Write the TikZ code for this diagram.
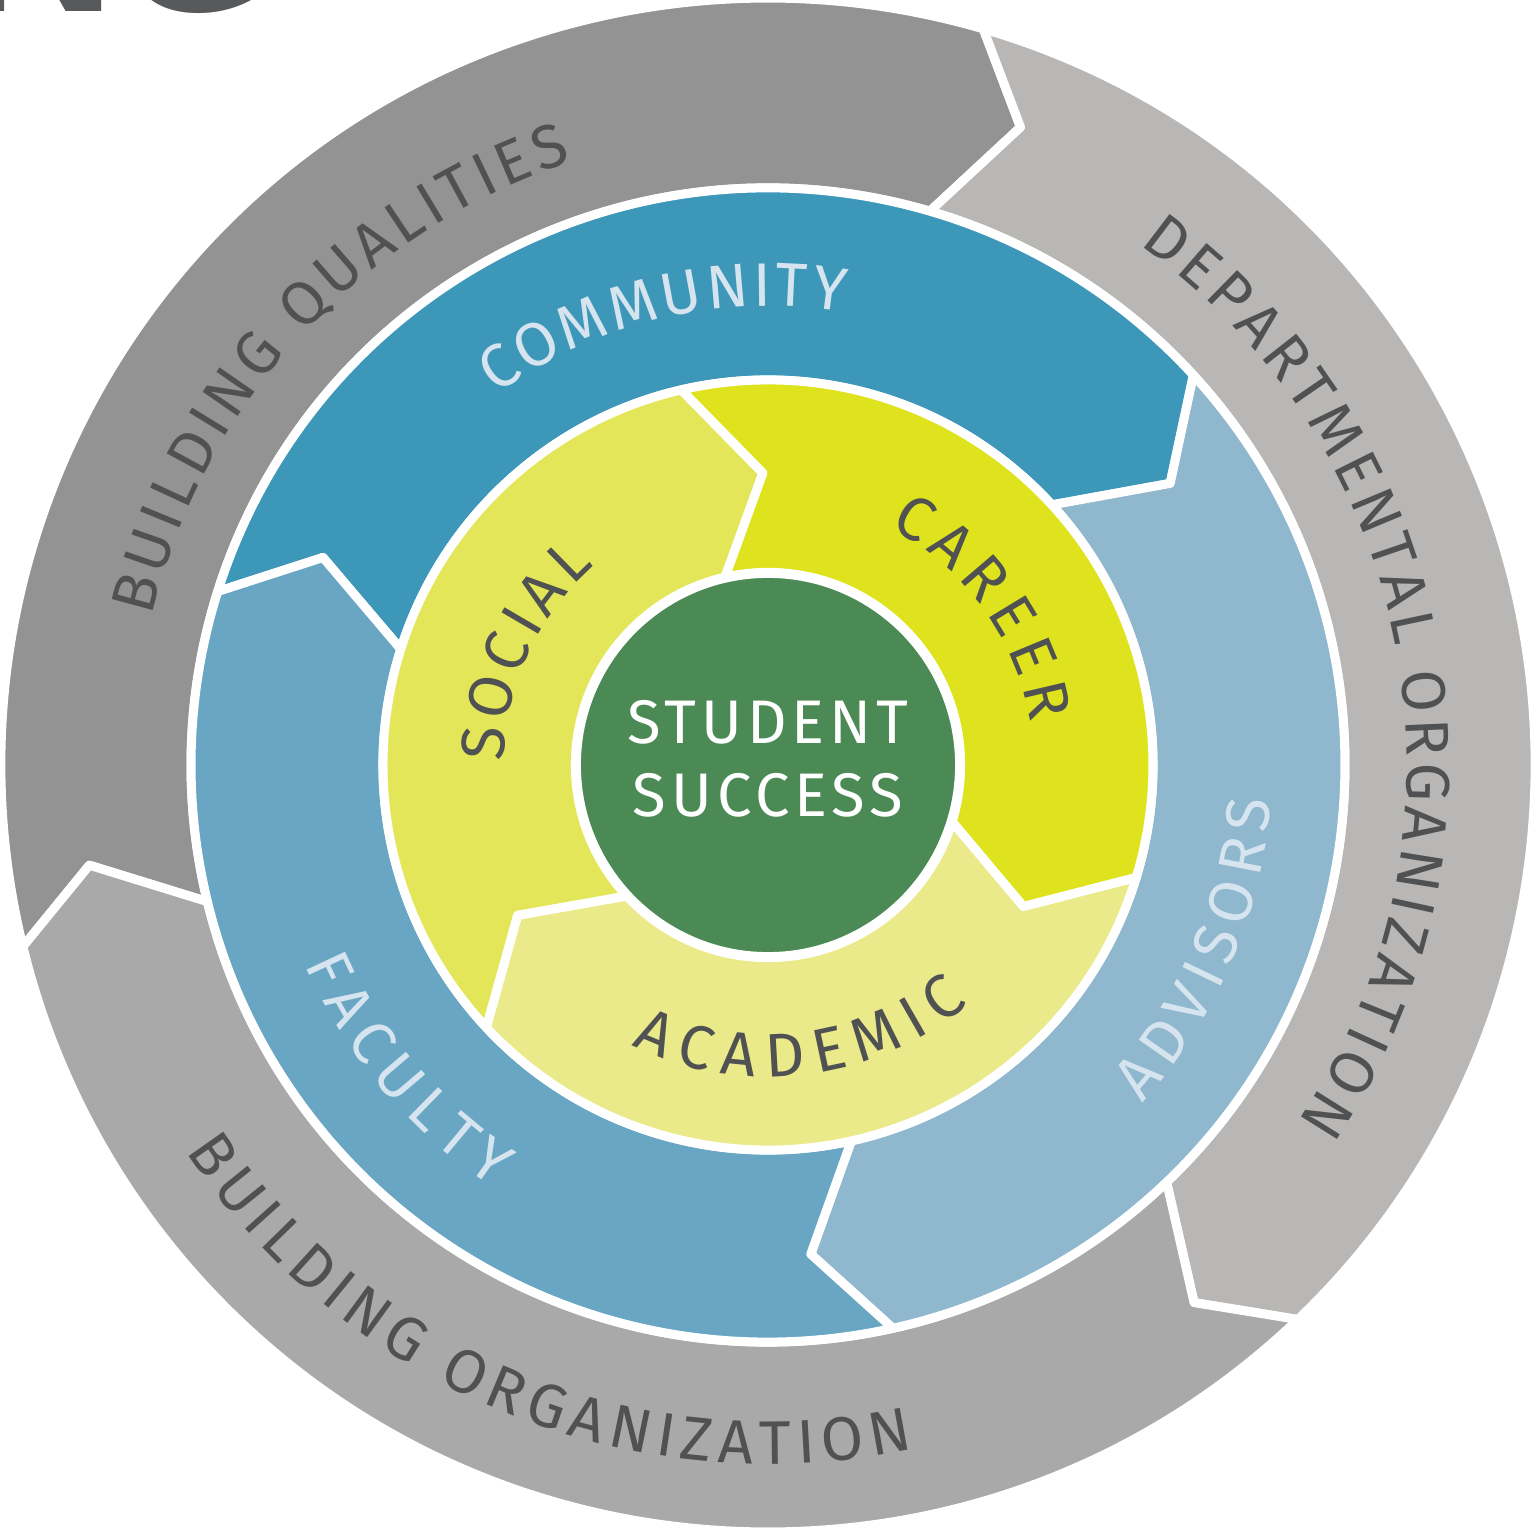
\documentclass[tikz,border=0pt]{standalone}
\usepackage{fontspec}
\usepackage{tikz}
\usetikzlibrary{decorations.text}
\newfontfamily\ringfont{Fira Sans}
\newfontfamily\centerfont[LetterSpace=8]{Fira Sans}
\newfontfamily\titlefont{Liberation Sans}
\definecolor{qualgray}{HTML}{939393}
\definecolor{deptgray}{HTML}{B8B7B5}
\definecolor{orggray}{HTML}{A9A9A9}
\definecolor{commblue}{HTML}{3D97B8}
\definecolor{advblue}{HTML}{8FB7CD}
\definecolor{facblue}{HTML}{68A6C3}
\definecolor{socyellow}{HTML}{E4E65A}
\definecolor{caryellow}{HTML}{DFE31D}
\definecolor{acayellow}{HTML}{EAEA8A}
\definecolor{hubgreen}{HTML}{4C8A55}
\definecolor{darktext}{HTML}{4F5152}
\definecolor{lighttext}{HTML}{D5E4EE}
\definecolor{titlegray}{HTML}{58595B}
\tikzstyle{seg} = [draw=white, line width=0.09cm, line join=round]
\tikzstyle{hub} = [circle, fill=hubgreen, draw=white, line width=0.1cm]
\newcommand{\ringseg}[7]{\path[seg, fill=#1] (#2:#5) arc[start angle=#2, end angle=#3, radius=#5] -- ({#3-#7}:#6) -- (#3:#4) arc[start angle=#3, end angle=#2, radius=#4] -- ({#2-#7}:#6) -- cycle;}
\newcommand{\ringtext}[5]{\path[decorate, decoration={text along path, text align=fit to path, text={|\ringfont\fontsize{17.5}{20}\selectfont\color{#1}|#5}}] (#2:#4) arc[start angle=#2, end angle=#3, radius=#4];}

\begin{document}
\begin{tikzpicture}[x=0.01cm, y=0.01cm]
			\useasboundingbox (-768,-765) rectangle (764,765);
			\begin{scope}
				\clip (-768,-765) rectangle (764,765);
				\node [anchor=base west, inner sep=0, text=titlegray, font=\titlefont\bfseries\fontsize{60}{60}\selectfont] (title) at (-805,753) {NG};
			\end{scope}
			
			\ringseg{qualgray}{193.7}{73.7}{577}{767}{686}{5.3}
			\ringseg{deptgray}{73.7}{-46.3}{577}{767}{686}{5.3}
			\ringseg{orggray}{313.7}{193.7}{577}{767}{686}{5.3}
			
			\ringseg{commblue}{162.5}{42.5}{385}{577}{491}{7.5}
			\ringseg{advblue}{42.5}{-77.5}{385}{577}{491}{7.5}
			\ringseg{facblue}{282.5}{162.5}{385}{577}{491}{7.5}
			
			\ringseg{socyellow}{223}{103}{192}{385}{292}{12}
			\ringseg{caryellow}{103}{-17}{192}{385}{292}{12}
			\ringseg{acayellow}{343}{223}{192}{385}{292}{12}
			
			\node [hub, minimum size=3.84cm, inner sep=0] (hub) at (0,0) {};
			\node [text=white, align=center, font=\centerfont\fontsize{17.5}{20.8}\selectfont] (student) at (0,6.5) {STUDENT\\SUCCESS};
			
			\ringtext{darktext}{166.5}{108}{634}{BUILDING QUALITIES}
			\ringtext{darktext}{54.5}{-33.9}{639}{DEPARTMENTAL ORGANIZATION}
			\ringtext{darktext}{213.6}{282}{699}{BUILDING ORGANIZATION}
			\ringtext{lighttext}{126.3}{80.5}{459}{COMMUNITY}
			\ringtext{lighttext}{-42.1}{-4}{504}{ADVISORS}
			\ringtext{lighttext}{203.3}{237}{504}{FACULTY}
			\ringtext{darktext}{179.3}{131}{264}{SOCIAL}
			\ringtext{darktext}{63}{9.2}{266}{CAREER}
			\ringtext{darktext}{244}{310}{312}{ACADEMIC}
		\end{tikzpicture}
\end{document}
